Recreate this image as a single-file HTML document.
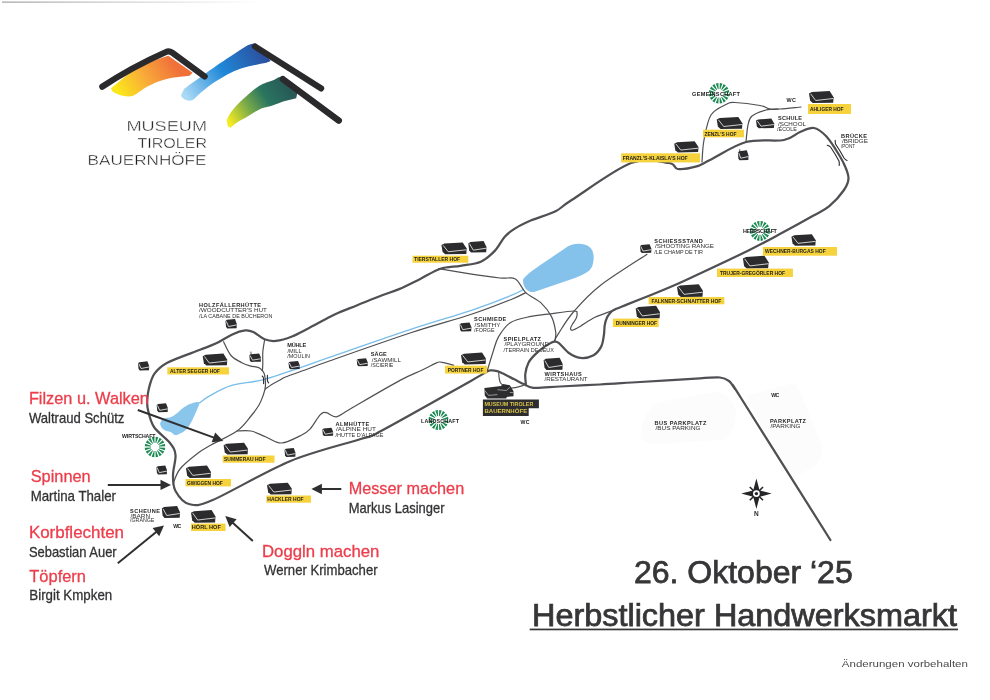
<!DOCTYPE html>
<html><head><meta charset="utf-8">
<style>
html,body{margin:0;padding:0;background:#fff;}
body{width:990px;height:700px;overflow:hidden;position:relative;}
svg{position:absolute;left:0;top:0;will-change:transform;}
text{font-family:"Liberation Sans",sans-serif;}
</style></head><body>
<svg width="990" height="700" viewBox="0 0 990 700">
<defs>
<symbol id="h" viewBox="0 0 25 12" preserveAspectRatio="none">
<path d="M0,2.6 L3,1.1 L21,0 L25,6.2 L24.6,11.7 L3.8,12 L1.2,9.8 Z" fill="#2b2b2d"/>
<path d="M1.7,2.9 L6.8,9.5 L24.6,7.5" fill="none" stroke="#ececec" stroke-width="0.85"/>
</symbol>
<linearGradient id="gO" x1="118" y1="92" x2="172" y2="60" gradientUnits="userSpaceOnUse">
<stop offset="0" stop-color="#fbe81a"/><stop offset="0.5" stop-color="#f8a93a"/><stop offset="1" stop-color="#f0703a"/></linearGradient>
<linearGradient id="gB" x1="186" y1="97" x2="262" y2="50" gradientUnits="userSpaceOnUse">
<stop offset="0" stop-color="#acdaf6"/><stop offset="0.5" stop-color="#1f88d8"/><stop offset="1" stop-color="#2c4f9e"/></linearGradient>
<linearGradient id="gG" x1="230" y1="124" x2="288" y2="88" gradientUnits="userSpaceOnUse">
<stop offset="0" stop-color="#f6ec22"/><stop offset="0.35" stop-color="#7aaa48"/><stop offset="0.65" stop-color="#2a7560"/><stop offset="1" stop-color="#285a58"/></linearGradient>
<linearGradient id="gTop" x1="0" y1="0" x2="260" y2="0" gradientUnits="userSpaceOnUse">
<stop offset="0" stop-color="#8a8a8a"/><stop offset="0.5" stop-color="#c8c8c8"/><stop offset="1" stop-color="#ffffff"/></linearGradient>
</defs>
<path d="M640,436 Q645,406 660,402 L716,392 Q732,394 736,412 Q734,436 722,440 L660,444 Q642,444 640,436 Z" fill="#fcfcfc"/>
<path d="M746,396 L790,384 Q796,383 800,392 L822,446 Q824,458 812,468 L800,474 Q790,476 784,466 Z" fill="#fcfcfc"/>
<path d="M523.2,278.9 C530,271 545,262 567.7,246.6 C572,243.5 583,242 588.9,246.6 C594,250 595,258 592,266.8 C589,272 585,274 575,278 L534,292 C528,293 522,287 523.2,278.9 Z" fill="#84c2ec"/>
<path d="M200.0,402.1 C198.3,402.3 196.6,401.7 192.9,402.9 C189.2,404.1 188.8,404.1 184.3,407.1 C179.8,410.1 178.3,413.0 173.6,415.7 C168.9,418.4 167.3,417.1 164.3,418.6 C161.3,420.1 161.5,420.4 160.7,422.1 C159.9,423.8 159.9,423.9 160.7,425.7 C161.5,427.5 162.0,428.5 164.3,430.0 C166.6,431.5 168.2,430.9 170.7,432.1 C173.2,433.3 172.8,434.6 175.0,435.0 C177.2,435.4 177.5,434.8 180.0,433.6 C182.5,432.4 183.4,432.2 185.7,430.0 C188.0,427.8 187.8,428.0 190.0,424.3 C192.2,420.6 192.8,419.0 195.0,414.3 C197.2,409.6 198.1,407.1 199.3,404.3 C200.5,401.5 199.8,402.6 200.0,402.1 Z" fill="#8ac6ec"/>
<path d="M199.5,403.0 C201.2,401.8 204.8,398.6 210.0,395.7 C215.2,392.8 222.1,388.3 231.0,385.6 C239.9,382.9 252.1,382.6 263.6,379.6 C275.1,376.6 289.1,371.3 300.2,367.6 C311.3,363.9 311.6,363.6 330.0,357.2 C348.4,350.8 387.2,337.2 410.8,329.4 C434.4,321.6 454.6,316.0 471.4,310.3 C488.2,304.6 503.0,298.8 511.8,295.2 C520.6,291.6 522.0,290.0 524.0,289.0" fill="none" stroke="#78bdea" stroke-width="1.35"/>
<rect x="2" y="1.6" width="258" height="1" fill="url(#gTop)"/>
<path d="M526.0,385.4 C525.9,383.5 524.9,377.8 525.3,374.0 C525.7,370.2 526.9,365.9 528.5,362.7 C530.1,359.5 532.3,357.3 535.0,354.6 C537.7,351.9 541.4,348.8 544.6,346.6 C547.8,344.5 551.9,342.2 554.3,341.7 C556.7,341.1 556.8,341.4 559.2,343.3 C561.6,345.2 565.4,350.6 568.9,353.0 C572.4,355.4 576.2,357.5 580.2,357.9 C584.2,358.3 589.6,357.4 593.1,355.5 C596.6,353.6 599.4,350.0 601.2,346.6 C603.0,343.2 603.3,338.5 603.9,335.0 C604.5,331.5 604.2,328.3 604.7,325.4 C605.2,322.4 606.0,319.6 607.1,317.3 C608.2,315.0 609.9,313.1 611.2,311.7 C612.6,310.3 612.5,310.4 615.2,309.2 C617.9,308.0 621.2,306.8 627.3,304.4 C633.4,302.0 643.6,297.9 651.6,294.7 C659.6,291.5 666.9,288.5 675.0,285.0 C683.1,281.5 687.8,279.2 700.0,273.5 C712.2,267.8 735.0,257.1 748.5,250.5 C762.0,243.8 770.0,239.4 780.8,233.6 C791.6,227.8 805.0,220.4 813.1,215.8 C821.2,211.2 824.1,210.5 829.3,206.2 C834.4,201.9 840.8,194.7 844.0,190.0 C847.2,185.3 848.5,182.3 848.5,178.0 C848.5,173.7 846.1,168.7 844.0,164.0 C841.9,159.3 839.0,154.7 836.0,150.0 C833.0,145.3 829.7,139.7 826.0,136.0 C822.3,132.3 818.3,128.7 814.0,128.0 C809.7,127.3 805.0,130.0 800.0,132.0 C795.0,134.0 793.0,138.3 784.0,140.0 C775.0,141.7 758.3,138.7 746.0,142.0 C733.7,145.3 718.4,155.9 710.0,160.0 C701.6,164.1 701.0,165.2 695.6,166.7 C690.2,168.2 682.2,169.6 677.8,169.0 C673.4,168.4 676.8,164.0 669.0,163.0 C661.2,162.0 647.2,156.8 631.0,163.0 C614.8,169.2 584.3,192.0 571.7,200.0 C559.1,208.0 562.3,207.8 555.6,211.2 C548.9,214.6 538.0,217.4 531.3,220.3 C524.6,223.2 519.6,225.7 515.2,228.4 C510.8,231.1 508.4,232.8 505.0,236.5 C501.6,240.2 499.0,246.4 495.0,250.6 C491.0,254.8 486.5,259.2 480.8,261.7 C475.1,264.2 467.3,264.6 460.6,265.8 C453.9,267.0 447.1,266.6 440.4,268.8 C433.7,271.0 427.1,275.5 420.2,278.9 C413.3,282.3 405.7,286.3 399.1,289.1 C392.6,291.9 388.0,293.1 380.9,295.8 C373.8,298.5 363.8,302.7 356.7,305.5 C349.6,308.3 343.6,310.5 338.5,312.7 C333.4,314.9 331.4,316.2 326.4,318.8 C321.3,321.4 313.9,325.6 308.2,328.5 C302.5,331.4 297.4,334.4 292.0,336.5 C286.6,338.6 280.6,340.4 276.0,340.9 C271.4,341.4 268.4,340.8 264.6,339.3 C260.8,337.8 256.5,333.5 253.3,332.0 C250.1,330.5 248.7,330.0 245.2,330.4 C241.7,330.8 237.1,332.2 232.3,334.4 C227.5,336.5 221.6,340.7 216.2,343.3 C210.8,345.9 208.2,346.6 200.0,349.8 C191.8,353.0 174.9,358.7 167.3,362.7 C159.7,366.7 157.6,369.4 154.5,373.6 C151.4,377.8 150.2,383.6 149.0,388.0 C147.8,392.4 147.5,396.3 147.3,400.0 C147.1,403.7 146.9,405.5 148.0,410.0 C149.1,414.5 150.3,421.5 154.0,427.0 C157.7,432.5 166.4,438.3 170.0,443.0 C173.6,447.7 175.0,449.7 175.5,455.0 C176.0,460.3 173.0,469.0 173.0,475.0 C173.0,481.0 172.8,486.2 175.5,491.0 C178.2,495.8 182.8,502.5 189.0,504.0 C195.2,505.5 195.9,507.1 212.7,500.0 C229.5,492.9 265.3,471.4 290.0,461.2 C314.7,451.0 345.5,444.0 360.7,439.0 C375.9,434.0 362.8,440.6 381.0,431.0 C399.2,421.4 452.3,391.3 470.0,381.4 C487.7,371.5 483.5,373.4 487.1,371.6 C490.7,369.8 489.7,370.5 491.4,370.4 C493.1,370.3 495.2,370.6 497.1,371.1 C499.0,371.6 500.0,372.2 502.9,373.6 C505.8,375.0 510.7,377.5 514.3,379.3 C517.9,381.1 521.1,382.9 524.3,384.3 C527.5,385.7 527.3,387.4 533.3,387.8 C539.2,388.2 548.9,387.1 560.0,386.5 C571.1,385.9 586.7,385.2 600.0,384.5 C613.3,383.8 623.3,383.0 640.0,382.0 C656.7,381.0 686.7,379.1 700.0,378.3 C713.3,377.6 715.2,377.1 720.0,377.5 C724.8,377.9 726.5,379.1 729.0,381.0 C731.5,382.9 733.0,386.2 735.0,389.0 C737.0,391.8 725.1,372.8 741.0,398.0 C756.9,423.2 815.5,516.3 830.4,540.0" fill="none" stroke="#505054" stroke-width="2.25" stroke-linecap="round" stroke-linejoin="round"/>
<path d="M702.0,162.0 C702.3,158.3 702.5,147.8 704.0,140.0 C705.5,132.2 707.3,120.9 711.0,115.0 C714.7,109.1 722.0,106.6 726.0,104.5 C730.0,102.4 729.3,102.3 735.0,102.5 C740.7,102.7 754.2,104.4 760.0,105.5 C765.8,106.6 766.7,108.4 770.0,109.0 C773.3,109.6 774.8,109.3 780.0,109.0 C785.2,108.7 797.5,107.3 801.0,107.0" fill="none" stroke="#505054" stroke-width="1.2" stroke-linecap="round" stroke-linejoin="round"/>
<path d="M746.0,142.0 C746.3,139.2 747.0,129.3 748.0,125.0 C749.0,120.7 749.0,118.5 752.0,116.0 C755.0,113.5 761.7,111.2 766.0,110.0 C770.3,108.8 776.0,109.2 778.0,109.0" fill="none" stroke="#505054" stroke-width="1.2" stroke-linecap="round" stroke-linejoin="round"/>
<path d="M647.0,254.3 C639.2,259.5 612.2,276.2 600.0,285.7 C587.8,295.2 580.8,303.5 573.8,311.5 C566.8,319.5 561.6,328.8 558.3,333.8 C555.0,338.8 554.7,340.2 554.0,341.5" fill="none" stroke="#505054" stroke-width="1.2" stroke-linecap="round" stroke-linejoin="round"/>
<path d="M438.6,268.6 C443.8,269.5 459.8,272.2 470.0,273.8 C480.2,275.4 492.4,277.1 500.0,278.0 C507.6,278.9 511.1,276.5 515.4,278.9 C519.7,281.3 521.4,288.6 525.7,292.6 C530.0,296.6 536.7,298.9 541.0,302.9 C545.3,306.9 549.0,311.8 551.5,316.6 C554.0,321.5 555.1,328.0 555.7,332.0 C556.3,336.0 555.1,339.2 555.0,340.6" fill="none" stroke="#505054" stroke-width="1.2" stroke-linecap="round" stroke-linejoin="round"/>
<path d="M265.4,389.0 C266.4,388.3 269.0,386.2 271.4,384.7 C273.8,383.2 277.6,381.3 280.0,380.0 C282.4,378.7 281.3,378.7 285.5,377.0 C289.7,375.3 297.6,372.7 305.0,370.0 C312.4,367.3 312.4,367.0 330.0,360.8 C347.6,354.6 387.2,340.6 410.8,332.8 C434.4,325.1 454.6,319.9 471.4,314.3 C488.2,308.7 502.8,302.8 511.8,299.2 C520.9,295.6 523.4,293.7 525.7,292.6" fill="none" stroke="#505054" stroke-width="1.2" stroke-linecap="round" stroke-linejoin="round"/>
<path d="M487.3,370.8 C488.2,367.7 491.1,357.7 493.0,352.0 C494.9,346.3 495.7,341.5 498.6,336.6 C501.6,331.7 505.3,325.8 510.7,322.4 C516.1,319.0 524.8,317.8 531.0,316.4 C537.2,315.0 540.8,315.1 547.9,314.2 C555.0,313.3 568.9,311.1 573.7,311.0 C578.6,310.9 576.6,312.2 577.0,313.4 C577.4,314.6 577.0,316.4 576.2,318.3 C575.4,320.2 573.1,322.9 572.1,324.7 C571.1,326.4 570.4,327.9 570.5,328.8 C570.6,329.7 571.3,330.5 572.9,330.1 C574.5,329.7 576.5,328.5 580.2,326.4 C583.9,324.3 589.2,320.1 595.0,317.3 C600.8,314.5 611.8,310.9 615.2,309.6" fill="none" stroke="#505054" stroke-width="1.2" stroke-linecap="round" stroke-linejoin="round"/>
<path d="M498.6,371.0 C498.9,373.0 498.6,380.2 500.6,383.0 C502.6,385.8 506.7,387.7 510.7,388.0 C514.7,388.3 522.4,385.5 524.8,385.0" fill="none" stroke="#505054" stroke-width="1.2" stroke-linecap="round" stroke-linejoin="round"/>
<path d="M237.0,431.0 C239.3,431.0 246.2,430.0 251.0,431.0 C255.8,432.0 260.9,435.0 266.0,437.0 C271.1,439.0 275.6,443.3 281.5,443.0 C287.4,442.7 296.9,437.4 301.7,435.0 C306.5,432.6 307.1,432.3 310.2,428.9 C313.3,425.5 317.6,417.4 320.3,414.7 C323.0,412.0 323.7,412.3 326.4,412.7 C329.1,413.1 332.5,417.5 336.5,416.8 C340.5,416.1 340.0,414.8 350.6,408.7 C361.2,402.6 388.2,386.8 400.0,380.4 C411.8,374.0 415.3,373.3 421.2,370.5 C427.1,367.7 432.3,364.8 435.4,363.4 C438.5,362.0 438.2,362.1 439.6,362.0 C441.0,361.9 441.5,362.2 443.8,362.7 C446.1,363.2 452.1,364.8 453.7,365.2" fill="none" stroke="#505054" stroke-width="1.2" stroke-linecap="round" stroke-linejoin="round"/>
<path d="M223.6,341.8 C224.8,344.1 228.0,352.0 231.0,355.5 C234.0,359.0 238.6,361.0 241.8,362.7 C245.0,364.4 247.2,365.1 250.0,365.9 C252.8,366.7 256.5,366.8 258.6,367.6 C260.7,368.4 261.8,370.1 262.4,370.6" fill="none" stroke="#505054" stroke-width="1.2" stroke-linecap="round" stroke-linejoin="round"/>
<path d="M264.6,340.1 C264.3,342.1 263.1,348.0 262.8,352.0 C262.5,356.0 262.9,360.9 262.8,364.0 C262.7,367.1 262.5,369.5 262.4,370.6" fill="none" stroke="#505054" stroke-width="1.2" stroke-linecap="round" stroke-linejoin="round"/>
<path d="M262.4,370.6 C262.8,371.3 264.1,372.3 264.6,374.9 C265.1,377.5 265.6,383.0 265.4,386.4 C265.2,389.8 264.4,391.9 263.3,395.0 C262.2,398.1 261.1,401.5 259.0,405.0 C256.9,408.5 254.7,411.7 251.0,416.0 C247.3,420.3 243.7,426.2 237.0,431.0 C230.3,435.8 217.5,441.3 211.0,445.0 C204.5,448.7 203.0,449.3 197.8,453.3 C192.6,457.3 184.1,463.9 180.0,469.0 C175.9,474.1 174.2,481.5 173.0,484.0" fill="none" stroke="#505054" stroke-width="1.2" stroke-linecap="round" stroke-linejoin="round"/>
<path d="M827.2,145.2 Q829.5,145.8 830.5,147 L835,154 L839,161 Q839.5,163 839.2,165.5 M835.2,140.2 Q835.2,142.5 835.5,144 L840,151 L844,158 Q845.5,160 847,160.5" fill="none" stroke="#2a2a2c" stroke-width="1.1" stroke-linecap="round" stroke-linejoin="round"/>
<path d="M262.2,376 Q263.6,377 263.6,379 L263.6,383.6 M267.4,375.3 L267.4,380.4 Q267.6,382 268.6,382.8" fill="none" stroke="#2a2a2c" stroke-width="1.1" stroke-linecap="round"/>
<path d="M809.00,93.60 L811.95,92.10 L829.66,91.00 L833.60,97.20 L833.21,102.70 L812.74,103.00 L810.18,100.80 Z" fill="#2b2b2d"/><path d="M810.67,93.90 L815.69,100.50 L833.21,98.50" fill="none" stroke="#ececec" stroke-width="0.85"/>
<path d="M716.70,119.60 L719.78,118.10 L738.29,117.00 L742.40,123.20 L741.99,128.70 L720.61,129.00 L717.93,126.80 Z" fill="#2b2b2d"/><path d="M718.45,119.90 L723.69,126.50 L741.99,124.50" fill="none" stroke="#ececec" stroke-width="0.85"/>
<path d="M756.00,120.60 L758.18,119.39 L771.29,118.50 L774.20,123.51 L773.91,127.96 L758.77,128.20 L756.87,126.42 Z" fill="#2b2b2d"/><path d="M757.24,120.84 L760.95,126.18 L773.91,124.56" fill="none" stroke="#ececec" stroke-width="0.85"/>
<path d="M674.20,143.63 L677.12,142.23 L694.61,141.20 L698.50,146.99 L698.11,152.12 L677.89,152.40 L675.37,150.35 Z" fill="#2b2b2d"/><path d="M675.85,143.91 L680.81,150.07 L698.11,148.20" fill="none" stroke="#ececec" stroke-width="0.85"/>
<path d="M737.90,152.47 L739.17,151.22 L746.80,150.30 L748.50,155.47 L748.33,160.05 L739.51,160.30 L738.41,158.47 Z" fill="#2b2b2d"/><path d="M738.62,152.72 L740.78,158.22 L748.33,156.55" fill="none" stroke="#ececec" stroke-width="0.85"/>
<path d="M640.00,246.16 L641.37,245.09 L649.58,244.30 L651.40,248.74 L651.22,252.69 L641.73,252.90 L640.55,251.32 Z" fill="#2b2b2d"/><path d="M640.78,246.38 L643.10,251.11 L651.22,249.68" fill="none" stroke="#ececec" stroke-width="0.85"/>
<path d="M791.40,236.77 L794.32,235.34 L811.81,234.30 L815.70,240.19 L815.31,245.41 L795.09,245.70 L792.57,243.61 Z" fill="#2b2b2d"/><path d="M793.05,237.06 L798.01,243.32 L815.31,241.43" fill="none" stroke="#ececec" stroke-width="0.85"/>
<path d="M742.90,258.50 L745.98,256.88 L764.49,255.70 L768.60,262.37 L768.19,268.28 L746.81,268.60 L744.13,266.24 Z" fill="#2b2b2d"/><path d="M744.65,258.82 L749.89,265.91 L768.19,263.76" fill="none" stroke="#ececec" stroke-width="0.85"/>
<path d="M677.00,287.05 L680.11,285.46 L698.76,284.30 L702.90,290.86 L702.49,296.68 L680.94,297.00 L678.24,294.67 Z" fill="#2b2b2d"/><path d="M678.76,287.37 L684.04,294.35 L702.49,292.24" fill="none" stroke="#ececec" stroke-width="0.85"/>
<path d="M635.70,308.50 L638.62,306.88 L656.11,305.70 L660.00,312.37 L659.61,318.28 L639.39,318.60 L636.87,316.24 Z" fill="#2b2b2d"/><path d="M637.35,308.82 L642.31,315.91 L659.61,313.76" fill="none" stroke="#ececec" stroke-width="0.85"/>
<path d="M441.40,245.03 L444.44,243.57 L462.65,242.50 L466.70,248.54 L466.30,253.91 L445.25,254.20 L442.61,252.06 Z" fill="#2b2b2d"/><path d="M443.12,245.33 L448.28,251.76 L466.30,249.81" fill="none" stroke="#ececec" stroke-width="0.85"/>
<path d="M468.30,243.44 L470.48,241.97 L483.59,240.90 L486.50,246.94 L486.21,252.31 L471.07,252.60 L469.17,250.45 Z" fill="#2b2b2d"/><path d="M469.54,243.73 L473.25,250.16 L486.21,248.21" fill="none" stroke="#ececec" stroke-width="0.85"/>
<path d="M225.50,321.06 L226.86,319.87 L234.99,319.00 L236.80,323.91 L236.62,328.26 L227.22,328.50 L226.04,326.76 Z" fill="#2b2b2d"/><path d="M226.27,321.30 L228.57,326.52 L236.62,324.94" fill="none" stroke="#ececec" stroke-width="0.85"/>
<path d="M202.70,356.18 L205.65,354.69 L223.36,353.60 L227.30,359.75 L226.91,365.20 L206.44,365.50 L203.88,363.32 Z" fill="#2b2b2d"/><path d="M204.37,356.48 L209.39,363.02 L226.91,361.04" fill="none" stroke="#ececec" stroke-width="0.85"/>
<path d="M249.30,355.32 L250.70,354.27 L259.13,353.50 L261.00,357.84 L260.81,361.69 L251.08,361.90 L249.86,360.36 Z" fill="#2b2b2d"/><path d="M250.10,355.53 L252.48,360.15 L260.81,358.75" fill="none" stroke="#ececec" stroke-width="0.85"/>
<path d="M288.50,362.78 L289.86,361.75 L297.99,361.00 L299.80,365.24 L299.62,369.00 L290.22,369.20 L289.04,367.70 Z" fill="#2b2b2d"/><path d="M289.27,362.98 L291.57,367.49 L299.62,366.12" fill="none" stroke="#ececec" stroke-width="0.85"/>
<path d="M138.00,363.27 L139.34,362.13 L147.41,361.30 L149.20,366.00 L149.02,370.17 L139.70,370.40 L138.54,368.73 Z" fill="#2b2b2d"/><path d="M138.76,363.50 L141.05,368.50 L149.02,366.99" fill="none" stroke="#ececec" stroke-width="0.85"/>
<path d="M356.70,359.95 L358.03,358.94 L366.02,358.20 L367.80,362.38 L367.62,366.10 L358.39,366.30 L357.23,364.81 Z" fill="#2b2b2d"/><path d="M357.45,360.16 L359.72,364.61 L367.62,363.26" fill="none" stroke="#ececec" stroke-width="0.85"/>
<path d="M459.60,324.39 L461.02,323.24 L469.51,322.40 L471.40,327.15 L471.21,331.37 L461.39,331.60 L460.17,329.91 Z" fill="#2b2b2d"/><path d="M460.40,324.62 L462.81,329.68 L471.21,328.15" fill="none" stroke="#ececec" stroke-width="0.85"/>
<path d="M461.00,355.16 L464.00,353.68 L482.00,352.60 L486.00,358.70 L485.60,364.10 L464.80,364.40 L462.20,362.24 Z" fill="#2b2b2d"/><path d="M462.70,355.45 L467.80,361.94 L485.60,359.98" fill="none" stroke="#ececec" stroke-width="0.85"/>
<path d="M543.60,360.37 L545.89,358.83 L559.64,357.70 L562.70,364.06 L562.39,369.69 L546.50,370.00 L544.52,367.75 Z" fill="#2b2b2d"/><path d="M544.90,360.67 L548.80,367.44 L562.39,365.39" fill="none" stroke="#ececec" stroke-width="0.85"/>
<path d="M322.30,429.48 L323.61,428.45 L331.46,427.70 L333.20,431.94 L333.03,435.69 L323.96,435.90 L322.82,434.40 Z" fill="#2b2b2d"/><path d="M323.04,429.68 L325.26,434.19 L333.03,432.82" fill="none" stroke="#ececec" stroke-width="0.85"/>
<path d="M284.50,449.95 L285.82,448.82 L293.74,448.00 L295.50,452.65 L295.32,456.77 L286.17,457.00 L285.03,455.35 Z" fill="#2b2b2d"/><path d="M285.25,450.18 L287.49,455.12 L295.32,453.62" fill="none" stroke="#ececec" stroke-width="0.85"/>
<path d="M223.60,445.26 L226.53,443.78 L244.10,442.70 L248.00,448.80 L247.61,454.20 L227.31,454.50 L224.77,452.34 Z" fill="#2b2b2d"/><path d="M225.26,445.55 L230.24,452.04 L247.61,450.07" fill="none" stroke="#ececec" stroke-width="0.85"/>
<path d="M186.00,468.21 L189.00,466.65 L207.00,465.50 L211.00,471.96 L210.60,477.69 L189.80,478.00 L187.20,475.71 Z" fill="#2b2b2d"/><path d="M187.70,468.52 L192.80,475.40 L210.60,473.31" fill="none" stroke="#ececec" stroke-width="0.85"/>
<path d="M156.40,467.45 L157.67,466.32 L165.30,465.50 L167.00,470.15 L166.83,474.27 L158.01,474.50 L156.91,472.85 Z" fill="#2b2b2d"/><path d="M157.12,467.68 L159.28,472.62 L166.83,471.12" fill="none" stroke="#ececec" stroke-width="0.85"/>
<path d="M267.00,485.26 L269.98,483.78 L287.83,482.70 L291.80,488.80 L291.40,494.20 L270.77,494.50 L268.19,492.34 Z" fill="#2b2b2d"/><path d="M268.69,485.55 L273.75,492.04 L291.40,490.07" fill="none" stroke="#ececec" stroke-width="0.85"/>
<path d="M161.80,508.60 L163.98,507.10 L177.09,506.00 L180.00,512.20 L179.71,517.70 L164.57,518.00 L162.67,515.80 Z" fill="#2b2b2d"/><path d="M163.04,508.90 L166.75,515.50 L179.71,513.50" fill="none" stroke="#ececec" stroke-width="0.85"/>
<path d="M191.00,512.75 L193.94,511.16 L211.58,510.00 L215.50,516.56 L215.11,522.38 L194.72,522.70 L192.18,520.37 Z" fill="#2b2b2d"/><path d="M192.67,513.07 L197.66,520.05 L215.11,517.94" fill="none" stroke="#ececec" stroke-width="0.85"/>
<path d="M156.70,405.23 L158.03,404.12 L166.02,403.30 L167.80,407.90 L167.62,411.98 L158.39,412.20 L157.23,410.57 Z" fill="#2b2b2d"/><path d="M157.45,405.45 L159.72,410.35 L167.62,408.86" fill="none" stroke="#ececec" stroke-width="0.85"/>
<path d="M739.8,152.5 L739.8,149.2 M251,355 L251,351.6" stroke="#2d2d2f" stroke-width="0.8"/>
<path d="M484.4,388.1 L501,386.1 L503,384.1 L509.9,385.3 L513.5,391.3 L513.5,396.2 L506.7,397 L506.3,398.6 L487.3,398.6 L484.8,395.4 Z" fill="#2d2d2f"/>
<path d="M484.8,390.5 L488.5,395.4 L497.4,394.6 M497.4,389.7 L506.3,390.5 L509.9,387.3 M509.9,392.5 L513.1,392.5" fill="none" stroke="#dcdcdc" stroke-width="0.6"/>
<rect x="808" y="104" width="43.0" height="10.0" fill="#f6d23c"/>
<text x="810.0" y="111.1" font-size="5.8" font-weight="bold" fill="#1e1e1e" textLength="33.6" lengthAdjust="spacingAndGlyphs">AHLIGER HOF</text>
<rect x="703" y="129.7" width="41.0" height="7.6" fill="#f6d23c"/>
<text x="704.5" y="135.6" font-size="5.8" font-weight="bold" fill="#1e1e1e" textLength="32.0" lengthAdjust="spacingAndGlyphs">ZENZL'S HOF</text>
<rect x="621.2" y="153.3" width="78.8" height="9.1" fill="#f6d23c"/>
<text x="622.7" y="160.0" font-size="5.8" font-weight="bold" fill="#1e1e1e" textLength="65.0" lengthAdjust="spacingAndGlyphs">FRANZL'S-KLAISLA'S HOF</text>
<rect x="762.9" y="247" width="74.1" height="8.7" fill="#f6d23c"/>
<text x="765.0" y="253.4" font-size="5.8" font-weight="bold" fill="#1e1e1e" textLength="60.7" lengthAdjust="spacingAndGlyphs">WECHNER-BURGAS HOF</text>
<rect x="717" y="268.6" width="75.9" height="8.4" fill="#f6d23c"/>
<text x="720.0" y="274.9" font-size="5.8" font-weight="bold" fill="#1e1e1e" textLength="65.0" lengthAdjust="spacingAndGlyphs">TRUJER-GREGÖRLER HOF</text>
<rect x="648.6" y="297" width="75.7" height="7.3" fill="#f6d23c"/>
<text x="651.4" y="302.8" font-size="5.8" font-weight="bold" fill="#1e1e1e" textLength="70.0" lengthAdjust="spacingAndGlyphs">FALKNER-SCHNAITTER HOF</text>
<rect x="612.9" y="318.6" width="45.7" height="8.4" fill="#f6d23c"/>
<text x="615.7" y="324.9" font-size="5.8" font-weight="bold" fill="#1e1e1e" textLength="41.3" lengthAdjust="spacingAndGlyphs">DUNNINGER HOF</text>
<rect x="412.5" y="255.7" width="55.8" height="7.0" fill="#f6d23c"/>
<text x="414.1" y="261.3" font-size="5.8" font-weight="bold" fill="#1e1e1e" textLength="46.0" lengthAdjust="spacingAndGlyphs">TIERSTALLER HOF</text>
<rect x="167.3" y="367.3" width="61.7" height="7.2" fill="#f6d23c"/>
<text x="170.0" y="373.0" font-size="5.8" font-weight="bold" fill="#1e1e1e" textLength="50.0" lengthAdjust="spacingAndGlyphs">ALTER SEGGER HOF</text>
<rect x="445" y="365.7" width="42.0" height="7.9" fill="#f6d23c"/>
<text x="447.7" y="371.8" font-size="5.8" font-weight="bold" fill="#1e1e1e" textLength="35.7" lengthAdjust="spacingAndGlyphs">PORTNER HOF</text>
<rect x="222.7" y="455.5" width="51.8" height="7.2" fill="#f6d23c"/>
<text x="224.0" y="461.2" font-size="5.8" font-weight="bold" fill="#1e1e1e" textLength="41.5" lengthAdjust="spacingAndGlyphs">SUMMERAU HOF</text>
<rect x="185.5" y="479" width="45.5" height="7.4" fill="#f6d23c"/>
<text x="187.0" y="484.8" font-size="5.8" font-weight="bold" fill="#1e1e1e" textLength="35.7" lengthAdjust="spacingAndGlyphs">GWIGGEN HOF</text>
<rect x="266.4" y="495.5" width="44.6" height="7.2" fill="#f6d23c"/>
<text x="267.3" y="501.2" font-size="5.8" font-weight="bold" fill="#1e1e1e" textLength="36.3" lengthAdjust="spacingAndGlyphs">HACKLER HOF</text>
<rect x="191" y="523.6" width="34.5" height="7.4" fill="#f6d23c"/>
<text x="191.8" y="529.4" font-size="5.8" font-weight="bold" fill="#1e1e1e" textLength="29.0" lengthAdjust="spacingAndGlyphs">HÖRL HOF</text>
<path d="M482.9,399.6 H538.9 V408.3 H528.7 V415.9 H482.9 Z" fill="#2d2d2f"/>
<text x="484.4" y="406.2" font-size="5.6" font-weight="bold" fill="#d9c24a" textLength="48.9" lengthAdjust="spacingAndGlyphs">MUSEUM TIROLER</text>
<text x="484.4" y="413.4" font-size="5.6" font-weight="bold" fill="#d9c24a" textLength="42.8" lengthAdjust="spacingAndGlyphs">BAUERNHÖFE</text>
<path d="M729.38,93.99 L728.86,96.60 L723.23,94.48 L723.37,93.79Z M728.33,97.87 L726.85,100.08 L722.47,95.98 L722.86,95.39Z M725.88,101.05 L723.67,102.53 L721.19,97.06 L721.78,96.67Z M722.40,103.06 L719.79,103.58 L719.59,97.57 L720.28,97.43Z M718.41,103.58 L715.80,103.06 L717.92,97.43 L718.61,97.57Z M714.53,102.53 L712.32,101.05 L716.42,96.67 L717.01,97.06Z M711.35,100.08 L709.87,97.87 L715.34,95.39 L715.73,95.98Z M709.34,96.60 L708.82,93.99 L714.83,93.79 L714.97,94.48Z M708.82,92.61 L709.34,90.00 L714.97,92.12 L714.83,92.81Z M709.87,88.73 L711.35,86.52 L715.73,90.62 L715.34,91.21Z M712.32,85.55 L714.53,84.07 L717.01,89.54 L716.42,89.93Z M715.80,83.54 L718.41,83.02 L718.61,89.03 L717.92,89.17Z M719.79,83.02 L722.40,83.54 L720.28,89.17 L719.59,89.03Z M723.67,84.07 L725.88,85.55 L721.78,89.93 L721.19,89.54Z M726.85,86.52 L728.33,88.73 L722.86,91.21 L722.47,90.62Z M728.86,90.00 L729.38,92.61 L723.37,92.81 L723.23,92.12Z" fill="#1b8a52"/>
<path d="M769.98,231.57 L769.47,234.10 L763.85,232.00 L763.97,231.35Z M768.96,235.33 L767.53,237.48 L763.13,233.39 L763.50,232.84Z M766.58,238.43 L764.43,239.86 L761.94,234.40 L762.49,234.03Z M763.20,240.37 L760.67,240.88 L760.45,234.87 L761.10,234.75Z M759.33,240.88 L756.80,240.37 L758.90,234.75 L759.55,234.87Z M755.57,239.86 L753.42,238.43 L757.51,234.03 L758.06,234.40Z M752.47,237.48 L751.04,235.33 L756.50,232.84 L756.87,233.39Z M750.53,234.10 L750.02,231.57 L756.03,231.35 L756.15,232.00Z M750.02,230.23 L750.53,227.70 L756.15,229.80 L756.03,230.45Z M751.04,226.47 L752.47,224.32 L756.87,228.41 L756.50,228.96Z M753.42,223.37 L755.57,221.94 L758.06,227.40 L757.51,227.77Z M756.80,221.43 L759.33,220.92 L759.55,226.93 L758.90,227.05Z M760.67,220.92 L763.20,221.43 L761.10,227.05 L760.45,226.93Z M764.43,221.94 L766.58,223.37 L762.49,227.77 L761.94,227.40Z M767.53,224.32 L768.96,226.47 L763.50,228.96 L763.13,228.41Z M769.47,227.70 L769.98,230.23 L763.97,230.45 L763.85,229.80Z" fill="#1b8a52"/>
<path d="M448.48,420.67 L447.97,423.20 L442.35,421.10 L442.47,420.45Z M447.46,424.43 L446.03,426.58 L441.63,422.49 L442.00,421.94Z M445.08,427.53 L442.93,428.96 L440.44,423.50 L440.99,423.13Z M441.70,429.47 L439.17,429.98 L438.95,423.97 L439.60,423.85Z M437.83,429.98 L435.30,429.47 L437.40,423.85 L438.05,423.97Z M434.07,428.96 L431.92,427.53 L436.01,423.13 L436.56,423.50Z M430.97,426.58 L429.54,424.43 L435.00,421.94 L435.37,422.49Z M429.03,423.20 L428.52,420.67 L434.53,420.45 L434.65,421.10Z M428.52,419.33 L429.03,416.80 L434.65,418.90 L434.53,419.55Z M429.54,415.57 L430.97,413.42 L435.37,417.51 L435.00,418.06Z M431.92,412.47 L434.07,411.04 L436.56,416.50 L436.01,416.87Z M435.30,410.53 L437.83,410.02 L438.05,416.03 L437.40,416.15Z M439.17,410.02 L441.70,410.53 L439.60,416.15 L438.95,416.03Z M442.93,411.04 L445.08,412.47 L440.99,416.87 L440.44,416.50Z M446.03,413.42 L447.46,415.57 L442.00,418.06 L441.63,417.51Z M447.97,416.80 L448.48,419.33 L442.47,419.55 L442.35,418.90Z" fill="#1b8a52"/>
<path d="M165.28,447.69 L164.76,450.30 L158.94,448.13 L159.07,447.47Z M164.23,451.57 L162.75,453.78 L158.21,449.55 L158.59,448.99Z M161.78,454.75 L159.57,456.23 L156.99,450.59 L157.55,450.21Z M158.30,456.76 L155.69,457.28 L155.47,451.07 L156.13,450.94Z M154.31,457.28 L151.70,456.76 L153.87,450.94 L154.53,451.07Z M150.43,456.23 L148.22,454.75 L152.45,450.21 L153.01,450.59Z M147.25,453.78 L145.77,451.57 L151.41,448.99 L151.79,449.55Z M145.24,450.30 L144.72,447.69 L150.93,447.47 L151.06,448.13Z M144.72,446.31 L145.24,443.70 L151.06,445.87 L150.93,446.53Z M145.77,442.43 L147.25,440.22 L151.79,444.45 L151.41,445.01Z M148.22,439.25 L150.43,437.77 L153.01,443.41 L152.45,443.79Z M151.70,437.24 L154.31,436.72 L154.53,442.93 L153.87,443.06Z M155.69,436.72 L158.30,437.24 L156.13,443.06 L155.47,442.93Z M159.57,437.77 L161.78,439.25 L157.55,443.79 L156.99,443.41Z M162.75,440.22 L164.23,442.43 L158.59,445.01 L158.21,444.45Z M164.76,443.70 L165.28,446.31 L159.07,446.53 L158.94,445.87Z" fill="#1b8a52"/>
<text x="692" y="95.6" font-size="5.58" font-weight="bold" fill="#222" textLength="48" lengthAdjust="spacing">GEMEINSCHAFT</text>
<text x="786.4" y="101.6" font-size="5.39" font-weight="bold" fill="#222" textLength="9.6" lengthAdjust="spacing">WC</text>
<text x="778" y="119.6" font-size="5.58" font-weight="bold" fill="#262626" textLength="24" lengthAdjust="spacing">SCHULE</text>
<text x="778" y="125.6" font-size="6.20" fill="#2e2e2e" textLength="28" lengthAdjust="spacingAndGlyphs">/SCHOOL</text>
<text x="777" y="130.6" font-size="6.20" fill="#2e2e2e" textLength="20" lengthAdjust="spacingAndGlyphs">/ÉCOLE</text>
<text x="841" y="137.6" font-size="5.58" font-weight="bold" fill="#262626" textLength="26" lengthAdjust="spacing">BRÜCKE</text>
<text x="842" y="143" font-size="6.20" fill="#2e2e2e" textLength="26" lengthAdjust="spacingAndGlyphs">/BRIDGE</text>
<text x="841" y="148.4" font-size="6.20" fill="#2e2e2e" textLength="14" lengthAdjust="spacingAndGlyphs">/PONT</text>
<text x="654.3" y="242.9" font-size="5.58" font-weight="bold" fill="#262626" textLength="48.6" lengthAdjust="spacing">SCHIESSSTAND</text>
<text x="655.0" y="248" font-size="6.20" fill="#2e2e2e" textLength="59" lengthAdjust="spacingAndGlyphs">/SHOOTING RANGE</text>
<text x="654.3" y="253.7" font-size="6.20" fill="#2e2e2e" textLength="48.6" lengthAdjust="spacingAndGlyphs">/LE CHAMP DE TIR</text>
<text x="742.9" y="233.3" font-size="5.39" font-weight="bold" fill="#222" textLength="34" lengthAdjust="spacing">HERRSCHAFT</text>
<text x="199" y="307" font-size="5.58" font-weight="bold" fill="#262626" textLength="62" lengthAdjust="spacing">HOLZFÄLLERHÜTTE</text>
<text x="199" y="312.1" font-size="6.20" fill="#2e2e2e" textLength="68" lengthAdjust="spacingAndGlyphs">/WOODCUTTER'S HUT</text>
<text x="199" y="317.8" font-size="6.20" fill="#2e2e2e" textLength="73.4" lengthAdjust="spacingAndGlyphs">/LA CABANE DE BÜCHERON</text>
<text x="287.2" y="347.4" font-size="5.58" font-weight="bold" fill="#262626" textLength="19" lengthAdjust="spacing">MÜHLE</text>
<text x="287.5" y="352.7" font-size="6.20" fill="#2e2e2e" textLength="14" lengthAdjust="spacingAndGlyphs">/MILL</text>
<text x="287.2" y="357.9" font-size="6.20" fill="#2e2e2e" textLength="22.7" lengthAdjust="spacingAndGlyphs">/MOULIN</text>
<text x="370.8" y="356.2" font-size="5.58" font-weight="bold" fill="#262626" textLength="16" lengthAdjust="spacing">SÄGE</text>
<text x="371.8" y="361.8" font-size="6.20" fill="#2e2e2e" textLength="29" lengthAdjust="spacingAndGlyphs">/SAWMILL</text>
<text x="370.8" y="367.3" font-size="6.20" fill="#2e2e2e" textLength="22.6" lengthAdjust="spacingAndGlyphs">/SCIERIE</text>
<text x="474" y="321.4" font-size="5.58" font-weight="bold" fill="#262626" textLength="32.3" lengthAdjust="spacing">SCHMIEDE</text>
<text x="474.5" y="326.9" font-size="6.20" fill="#2e2e2e" textLength="26" lengthAdjust="spacingAndGlyphs">/SMITHY</text>
<text x="474" y="332.1" font-size="6.20" fill="#2e2e2e" textLength="20.5" lengthAdjust="spacingAndGlyphs">/FORGE</text>
<text x="503.6" y="340.6" font-size="5.58" font-weight="bold" fill="#262626" textLength="37.4" lengthAdjust="spacing">SPIELPLATZ</text>
<text x="504.5" y="346" font-size="6.20" fill="#2e2e2e" textLength="44.5" lengthAdjust="spacingAndGlyphs">/PLAYGROUND</text>
<text x="503.6" y="351.7" font-size="6.20" fill="#2e2e2e" textLength="50.4" lengthAdjust="spacingAndGlyphs">/TERRAIN DE JEUX</text>
<text x="544.6" y="376" font-size="5.58" font-weight="bold" fill="#262626" textLength="37.2" lengthAdjust="spacing">WIRTSHAUS</text>
<text x="544.6" y="381.4" font-size="6.20" fill="#2e2e2e" textLength="43" lengthAdjust="spacingAndGlyphs">/RESTAURANT</text>
<text x="421" y="422.5" font-size="5.39" font-weight="bold" fill="#222" textLength="38" lengthAdjust="spacing">LANDSCHAFT</text>
<text x="335.5" y="425.5" font-size="5.58" font-weight="bold" fill="#262626" textLength="33.7" lengthAdjust="spacing">ALMHÜTTE</text>
<text x="336.0" y="431" font-size="6.20" fill="#2e2e2e" textLength="40" lengthAdjust="spacingAndGlyphs">/ALPINE HUT</text>
<text x="335.5" y="436.6" font-size="6.20" fill="#2e2e2e" textLength="47.8" lengthAdjust="spacingAndGlyphs">/HUTTE D'ALPAGE</text>
<text x="122" y="437.5" font-size="5.21" font-weight="bold" fill="#222" textLength="33.5" lengthAdjust="spacing">WIRTSCHAFT</text>
<text x="130" y="513.3" font-size="5.58" font-weight="bold" fill="#262626" textLength="30" lengthAdjust="spacing">SCHEUNE</text>
<text x="130.5" y="517.8" font-size="6.20" fill="#2e2e2e" textLength="19.5" lengthAdjust="spacingAndGlyphs">/BARN</text>
<text x="130" y="522.2" font-size="6.20" fill="#2e2e2e" textLength="24.4" lengthAdjust="spacingAndGlyphs">/GRANGE</text>
<text x="173.3" y="527.5" font-size="5.21" font-weight="bold" fill="#222" textLength="8" lengthAdjust="spacing">WC</text>
<text x="520.4" y="423.9" font-size="5.21" font-weight="bold" fill="#222" textLength="9" lengthAdjust="spacing">WC</text>
<text x="654.5" y="424.6" font-size="5.58" font-weight="bold" fill="#262626" textLength="51.9" lengthAdjust="spacing">BUS PARKPLATZ</text>
<text x="655.5" y="430" font-size="6.20" fill="#2e2e2e" textLength="45" lengthAdjust="spacingAndGlyphs">/BUS PARKING</text>
<text x="771.3" y="396.8" font-size="5.21" font-weight="bold" fill="#222" textLength="8" lengthAdjust="spacing">WC</text>
<text x="769.9" y="422.7" font-size="5.58" font-weight="bold" fill="#262626" textLength="36" lengthAdjust="spacing">PARKPLATZ</text>
<text x="770.5" y="428.2" font-size="6.20" fill="#2e2e2e" textLength="30" lengthAdjust="spacingAndGlyphs">/PARKING</text>
<text x="756.4" y="516.3" font-size="6.5" font-weight="bold" fill="#2a2a2a" text-anchor="middle">N</text>
<path d="M756.4,478.40000000000003 L759.6,490.40000000000003 L771.6,493.6 L759.6,496.8 L756.4,509.0 L753.1999999999999,496.8 L741.1999999999999,493.6 L753.1999999999999,490.40000000000003 Z" fill="#262628"/>
<path d="M749.8,487.0 L763.0,500.20000000000005 M763.0,487.0 L749.8,500.20000000000005" stroke="#262628" stroke-width="1.6"/>
<circle cx="756.4" cy="493.6" r="4.8" fill="#262628"/><circle cx="756.4" cy="493.6" r="3.4" fill="#fff"/><circle cx="756.4" cy="493.6" r="1.7" fill="#262628"/>
<path d="M137.8,410.0 L215.3,438.1" stroke="#2f2f31" stroke-width="2.0"/>
<path d="M223.3,441.0 L211.7,442.3 L215.2,432.5 Z" fill="#2f2f31"/>
<path d="M107.8,484.9 L162.5,484.9" stroke="#2f2f31" stroke-width="2.0"/>
<path d="M171.0,484.9 L160.5,490.1 L160.5,479.7 Z" fill="#2f2f31"/>
<path d="M117.8,563.3 L157.4,530.9" stroke="#2f2f31" stroke-width="2.0"/>
<path d="M164.0,525.5 L159.2,536.2 L152.6,528.1 Z" fill="#2f2f31"/>
<path d="M252.8,541.0 L231.6,521.7" stroke="#2f2f31" stroke-width="2.0"/>
<path d="M225.3,516.0 L236.6,519.2 L229.6,526.9 Z" fill="#2f2f31"/>
<path d="M341.3,489.0 L319.9,489.0" stroke="#2f2f31" stroke-width="2.0"/>
<path d="M311.4,489.0 L321.9,483.8 L321.9,494.2 Z" fill="#2f2f31"/>
<text x="28.9" y="404.4" font-size="16.3" font-weight="normal" fill="#ec3d4b" stroke="#ec3d4b" stroke-width="0.3" textLength="120" lengthAdjust="spacingAndGlyphs">Filzen u. Walken</text>
<text x="28.9" y="423.3" font-size="14.5" font-weight="normal" fill="#333335" stroke="#333335" stroke-width="0.3" textLength="95.5" lengthAdjust="spacingAndGlyphs">Waltraud Schütz</text>
<text x="30.7" y="482.2" font-size="16.3" font-weight="normal" fill="#ec3d4b" stroke="#ec3d4b" stroke-width="0.3" textLength="60" lengthAdjust="spacingAndGlyphs">Spinnen</text>
<text x="30.7" y="501" font-size="14.5" font-weight="normal" fill="#333335" stroke="#333335" stroke-width="0.3" textLength="85.3" lengthAdjust="spacingAndGlyphs">Martina Thaler</text>
<text x="28.9" y="538.2" font-size="16.3" font-weight="normal" fill="#ec3d4b" stroke="#ec3d4b" stroke-width="0.3" textLength="95.1" lengthAdjust="spacingAndGlyphs">Korbflechten</text>
<text x="28.9" y="556.7" font-size="14.5" font-weight="normal" fill="#333335" stroke="#333335" stroke-width="0.3" textLength="87.8" lengthAdjust="spacingAndGlyphs">Sebastian Auer</text>
<text x="29.3" y="581.8" font-size="16.3" font-weight="normal" fill="#ec3d4b" stroke="#ec3d4b" stroke-width="0.3" textLength="56.7" lengthAdjust="spacingAndGlyphs">Töpfern</text>
<text x="29.3" y="600" font-size="14.5" font-weight="normal" fill="#333335" stroke="#333335" stroke-width="0.3" textLength="82.9" lengthAdjust="spacingAndGlyphs">Birgit Kmpken</text>
<text x="348.7" y="494.2" font-size="16.3" font-weight="normal" fill="#ec3d4b" stroke="#ec3d4b" stroke-width="0.3" textLength="115.5" lengthAdjust="spacingAndGlyphs">Messer machen</text>
<text x="348.7" y="512.5" font-size="14.5" font-weight="normal" fill="#333335" stroke="#333335" stroke-width="0.3" textLength="95.8" lengthAdjust="spacingAndGlyphs">Markus Lasinger</text>
<text x="262" y="557.2" font-size="16.3" font-weight="normal" fill="#ec3d4b" stroke="#ec3d4b" stroke-width="0.3" textLength="117.4" lengthAdjust="spacingAndGlyphs">Doggln machen</text>
<text x="264" y="575" font-size="14.5" font-weight="normal" fill="#333335" stroke="#333335" stroke-width="0.3" textLength="113.6" lengthAdjust="spacingAndGlyphs">Werner Krimbacher</text>
<text x="634" y="583.2" font-size="32" font-weight="normal" fill="#363638" stroke="#363638" stroke-width="0.75" textLength="218.7" lengthAdjust="spacingAndGlyphs">26. Oktober ‘25</text>
<text x="532" y="626" font-size="30.5" font-weight="normal" fill="#363638" stroke="#363638" stroke-width="0.75" textLength="425" lengthAdjust="spacingAndGlyphs">Herbstlicher Handwerksmarkt</text>
<rect x="529.7" y="628.6" width="428.3" height="1.7" fill="#363638"/>
<text x="841.8" y="666.8" font-size="9.8" font-weight="normal" fill="#4a4a4a" textLength="126.1" lengthAdjust="spacingAndGlyphs">Änderungen vorbehalten</text>
<path d="M110.8,88.5 C114.9,85.2 123.7,77.2 131.4,72.0 C139.1,66.8 142.1,65.7 149.5,62.5 C156.9,59.3 164.5,57.1 168.3,55.8 L192.6,72.7 L189.5,75.8 L189.5,75.8 C185.1,76.4 175.7,76.9 167.7,78.8 C159.7,80.7 155.6,82.6 149.5,85.5 C143.4,88.4 139.8,91.7 137.4,93.3 Q133,96.8 128,96.6 Q119,95.5 113,92 Z" fill="url(#gO)"/>
<path d="M181.7,93.8 L184.0,89.0 C187.0,86.8 191.3,83.6 199.2,78.0 C207.1,72.4 213.8,67.5 223.5,61.0 C233.2,54.5 242.9,48.4 247.7,45.3 Q252,43 256,43.5 L270.8,61 Q266,63 262.3,63.5 L262.3,63.5 C258.2,64.5 249.5,65.6 241.7,68.3 C233.9,71.0 230.8,72.7 223.5,76.8 C216.2,80.9 211.4,84.3 205.3,88.9 C199.2,93.5 195.6,97.6 193.2,99.8 Q188,102 184,99 Q180,96.5 181.7,93.8 Z" fill="url(#gB)"/>
<path d="M227.9,126.5 L226.6,119.9 C227.9,117.8 229.2,114.1 233.1,109.4 C237.0,104.7 241.0,101.0 246.3,96.3 C251.6,91.6 254.2,89.0 259.4,85.8 C264.6,82.6 268.6,82.2 272.5,80.5 C276.4,78.8 276.7,78.0 279.1,77.2 C281.5,76.4 283.3,76.7 284.3,76.6 L297.5,92.3 L296.2,98.2 L283.0,101.5 C280.9,102.3 277.2,103.9 272.5,105.5 C267.8,107.1 264.6,107.0 259.4,109.4 C254.2,111.8 250.8,114.7 246.3,117.3 C241.8,119.9 240.3,120.4 237.1,122.5 C233.9,124.6 231.8,126.7 230.5,127.8 Z" fill="url(#gG)"/>
<path d="M102.3,86.7 Q132,67 166,52 Q169,50.5 172,52.5 L204.7,76.4" fill="none" stroke="#2a2a2c" stroke-width="6.2" stroke-linecap="round" stroke-linejoin="round"/>
<path d="M255,46.5 L321.1,88.4" fill="none" stroke="#2a2a2c" stroke-width="6.2" stroke-linecap="round"/>
<path d="M283,79.2 L338.8,120.6" fill="none" stroke="#2a2a2c" stroke-width="6.4" stroke-linecap="round"/>
<text x="126.4" y="130.6" font-size="15.0" fill="#1c1c1e" stroke="#fff" stroke-width="0.4" textLength="80.7" lengthAdjust="spacingAndGlyphs">MUSEUM</text>
<text x="137.5" y="148" font-size="15.0" fill="#1c1c1e" stroke="#fff" stroke-width="0.4" textLength="69.6" lengthAdjust="spacingAndGlyphs">TIROLER</text>
<text x="87.6" y="165.1" font-size="15.0" fill="#1c1c1e" stroke="#fff" stroke-width="0.4" textLength="118.9" lengthAdjust="spacingAndGlyphs">BAUERNHÖFE</text>
</svg>
</body></html>
